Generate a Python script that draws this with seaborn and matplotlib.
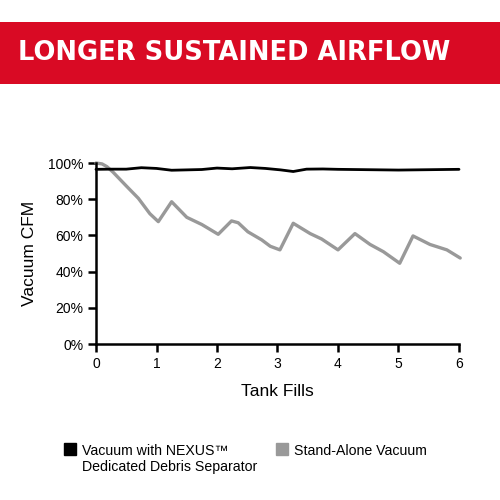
#!/usr/bin/env python3

import matplotlib
matplotlib.use('Agg')
import matplotlib.pyplot as plt
from matplotlib.lines import Line2D
from matplotlib.patches import Rectangle
import seaborn as sns
import pandas as pd


TITLE = 'LONGER SUSTAINED AIRFLOW'
RED = '#d90a24'
GRAY = '#999999'

# vacuum with NEXUS separator
nexus_fills = [0, 0.25, 0.5, 0.75, 1.0, 1.25, 1.5, 1.75, 2.0, 2.25, 2.55, 2.8,
               3.05, 3.26, 3.48, 3.75, 4.0, 4.5, 5.0, 5.5, 6.0]
nexus_cfm = [96.5, 96.6, 96.6, 97.4, 97.0, 96.0, 96.2, 96.4, 97.2, 96.8, 97.5, 97.0,
             96.2, 95.3, 96.6, 96.7, 96.5, 96.3, 96.1, 96.3, 96.5]

# stand-alone vacuum
solo_fills = [0, 0.1, 0.18, 0.28, 0.51, 0.7, 0.89, 1.03, 1.25, 1.5, 1.75, 2.02,
              2.24, 2.35, 2.51, 2.74, 2.88, 3.04, 3.26, 3.54, 3.73, 4.0, 4.28,
              4.53, 4.75, 5.02, 5.24, 5.52, 5.8, 6.02]
solo_cfm = [100, 99.5, 98, 95, 87, 80.5, 72, 67.6, 78.6, 70, 66, 60.6,
            68, 67, 62, 57.5, 54, 52, 66.7, 61, 58, 52, 61,
            55, 51, 44.6, 59.7, 55, 52, 47.5]

x_ticks = [0, 1, 2, 3, 4, 5, 6]
y_ticks = [0, 20, 40, 60, 80, 100]
legend_labels = ['Vacuum with NEXUS\u2122\nDedicated Debris Separator', 'Stand-Alone Vacuum']


def main():
    sns.set_style('ticks')
    plt.rcParams['font.family'] = ['Liberation Sans', 'DejaVu Sans']
    plt.rcParams['text.color'] = 'black'
    plt.rcParams['axes.labelcolor'] = 'black'
    plt.rcParams['xtick.color'] = 'black'
    plt.rcParams['ytick.color'] = 'black'

    fig = plt.figure(figsize=(5, 5), dpi=100)
    fig.patches.append(Rectangle((0, 0.832), 1, 0.124, transform=fig.transFigure,
                                 facecolor=RED, edgecolor='none', zorder=0))
    fig.text(0.036, 0.893, TITLE, color='white', fontsize=18.5, fontweight='bold',
             family=['DejaVu Sans'], va='center', ha='left')

    ax = fig.add_axes([0.192, 0.312, 0.726, 0.362])
    solo_df = pd.DataFrame({'fills': solo_fills, 'cfm': solo_cfm})
    nexus_df = pd.DataFrame({'fills': nexus_fills, 'cfm': nexus_cfm})
    sns.lineplot(data=solo_df, x='fills', y='cfm', color=GRAY, linewidth=2.4, ax=ax,
                 sort=False, clip_on=False)
    sns.lineplot(data=nexus_df, x='fills', y='cfm', color='black', linewidth=2.0, ax=ax,
                 sort=False, clip_on=False)

    ax.set_xlim(0, 6)
    ax.set_ylim(0, 100)
    ax.set_xticks(x_ticks)
    ax.set_yticks(y_ticks)
    ax.set_yticklabels([f'{v}%' for v in y_ticks])
    ax.tick_params(length=6, width=1.8, labelsize=10, pad=3)
    for side in ['left', 'bottom']:
        ax.spines[side].set_linewidth(1.8)
        ax.spines[side].set_color('black')
    sns.despine(ax=ax)
    ax.set_xlabel('Tank Fills', fontsize=12.5, labelpad=10)
    ax.set_ylabel('Vacuum CFM', fontsize=12.5, labelpad=8)

    handles = [Line2D([], [], marker='s', linestyle='none', color='black', markersize=8),
               Line2D([], [], marker='s', linestyle='none', color=GRAY, markersize=8)]
    leg = fig.legend(handles, legend_labels, loc='upper left', bbox_to_anchor=(0.128, 0.112),
                     ncol=2, frameon=False, fontsize=10.2, handlelength=0.8, handletextpad=0.5,
                     columnspacing=1.3, borderpad=0, borderaxespad=0)
    # keep markers and columns aligned to the first line of text
    leg._legend_handle_box.align = 'top'
    for col in leg._legend_handle_box.get_children():
        col.align = 'left'
        for item in col.get_children():
            item.align = 'top'

    plt.savefig('out.png', dpi=100)


if __name__ == '__main__':
    main()
